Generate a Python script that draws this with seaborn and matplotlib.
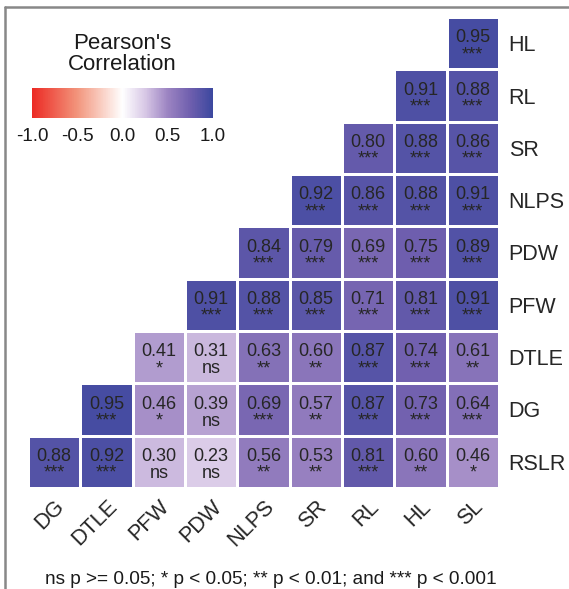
import numpy as np
import pandas as pd
import matplotlib
matplotlib.use("Agg")
import matplotlib.pyplot as plt
import seaborn as sns
from matplotlib.colors import LinearSegmentedColormap
from matplotlib.lines import Line2D

row_labels = ["HL", "RL", "SR", "NLPS", "PDW", "PFW", "DTLE", "DG", "RSLR"]
col_labels = ["DG", "DTLE", "PFW", "PDW", "NLPS", "SR", "RL", "HL", "SL"]

# Pearson r per row, right-aligned in the triangle (left to right)
r_HL = [0.95]
r_RL = [0.91, 0.88]
r_SR = [0.80, 0.88, 0.86]
r_NLPS = [0.92, 0.86, 0.88, 0.91]
r_PDW = [0.84, 0.79, 0.69, 0.75, 0.89]
r_PFW = [0.91, 0.88, 0.85, 0.71, 0.81, 0.91]
r_DTLE = [0.41, 0.31, 0.63, 0.60, 0.87, 0.74, 0.61]
r_DG = [0.95, 0.46, 0.39, 0.69, 0.57, 0.87, 0.73, 0.64]
r_RSLR = [0.88, 0.92, 0.30, 0.23, 0.56, 0.53, 0.81, 0.60, 0.46]

# significance codes, same layout
p_HL = ["***"]
p_RL = ["***", "***"]
p_SR = ["***", "***", "***"]
p_NLPS = ["***", "***", "***", "***"]
p_PDW = ["***", "***", "***", "***", "***"]
p_PFW = ["***", "***", "***", "***", "***", "***"]
p_DTLE = ["*", "ns", "**", "**", "***", "***", "**"]
p_DG = ["***", "*", "ns", "***", "**", "***", "***", "***"]
p_RSLR = ["***", "***", "ns", "ns", "**", "**", "***", "**", "*"]

r_rows = [r_HL, r_RL, r_SR, r_NLPS, r_PDW, r_PFW, r_DTLE, r_DG, r_RSLR]
p_rows = [p_HL, p_RL, p_SR, p_NLPS, p_PDW, p_PFW, p_DTLE, p_DG, p_RSLR]

n = len(col_labels)
vals = np.full((len(row_labels), n), np.nan)
sig = [[""] * n for _ in row_labels]
for i, (rr, pp) in enumerate(zip(r_rows, p_rows)):
    vals[i, n - len(rr):] = rr
    sig[i][n - len(pp):] = pp

df = pd.DataFrame(vals, index=row_labels, columns=col_labels)

# red - white - purple/blue scale
cmap = LinearSegmentedColormap.from_list(
    "pearson",
    [
        (0.0, "#ec2a24"),
        (0.25, "#f2957c"),
        (0.5, "#ffffff"),
        (0.625, "#d8c8e6"),
        (0.75, "#9c84c2"),
        (0.875, "#6f5fae"),
        (1.0, "#3c489f"),
    ],
)

sns.set_style("white")
plt.rcParams["font.family"] = ["Liberation Sans", "DejaVu Sans"]

W, H = 569, 589
fig = plt.figure(figsize=(W / 100, H / 100), dpi=100)
ax = fig.add_axes([28 / W, 1 - 488 / H, 471 / W, 471 / H])
cax = fig.add_axes([32 / W, 1 - 118 / H, 181 / W, 30 / H])

sns.heatmap(
    df,
    mask=df.isna(),
    cmap=cmap,
    vmin=-1,
    vmax=1,
    linewidths=0.8,
    linecolor="white",
    ax=ax,
    cbar_ax=cax,
    cbar_kws={"orientation": "horizontal", "ticks": [-1, -0.5, 0, 0.5, 1]},
)

for i in range(len(row_labels)):
    for j in range(n):
        if np.isnan(vals[i, j]):
            continue
        ax.text(j + 0.5, i + 0.56, f"{vals[i, j]:.2f}\n{sig[i][j]}",
                ha="center", va="center", fontsize=13, color="#262626",
                linespacing=1.0)

ax.yaxis.tick_right()
ax.set_yticklabels(row_labels, rotation=0, fontsize=15.5)
ax.set_xticklabels(col_labels, rotation=45, ha="right", rotation_mode="anchor",
                   fontsize=15.5)
ax.tick_params(axis="y", length=0, pad=7, labelright=True, labelleft=False)
ax.tick_params(axis="x", length=0, pad=6)
ax.set_xlabel("")
ax.set_ylabel("")

cb = ax.collections[0].colorbar
cb.outline.set_visible(False)
cax.set_xticklabels(["-1.0", "-0.5", "0.0", "0.5", "1.0"])
cax.tick_params(axis="x", direction="in", color="white", length=6, width=1.2,
                top=True, bottom=True, labelsize=13.5, pad=7,
                labelcolor="#1a1a1a")

fig.text(122 / W, 1 - 54 / H, "Pearson's\nCorrelation", ha="center",
         va="center", fontsize=16, linespacing=1.0, color="#1a1a1a")
fig.text(271 / W, 1 - 579 / H,
         "ns p >= 0.05; * p < 0.05; ** p < 0.01; and *** p < 0.001",
         ha="center", va="center", fontsize=13.7, color="#1a1a1a")

# outer frame (top and left edges)
fig.add_artist(Line2D([5 / W, 1], [1 - 7 / H, 1 - 7 / H], color="#888888",
                      lw=1.8, transform=fig.transFigure))
fig.add_artist(Line2D([5 / W, 5 / W], [0, 1 - 7 / H], color="#888888",
                      lw=1.8, transform=fig.transFigure))

fig.savefig("out.png", dpi=100)
